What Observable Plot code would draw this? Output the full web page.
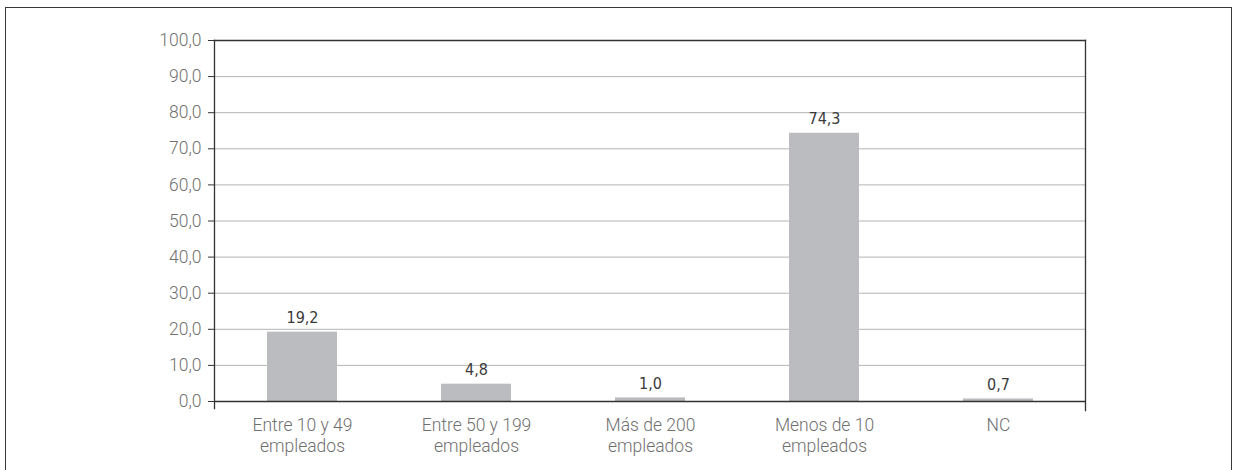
<!DOCTYPE html>
<html>
<head>
<meta charset="utf-8">
<script src="https://cdn.jsdelivr.net/npm/d3@7"></script>
<script src="https://cdn.jsdelivr.net/npm/@observablehq/plot@0.6"></script>
<style>
  html, body { margin: 0; padding: 0; background: #fff; }
  #wrap { position: relative; width: 1237px; height: 470px; overflow: hidden; }
  #border { position: absolute; left: 5px; top: 7px; width: 1227px; height: 480px; border: 1.5px solid #3a3a3a; box-sizing: border-box; pointer-events: none; }
</style>
</head>
<body>
<div id="wrap"><div id="border"></div></div>
<script>
const categories = ["Entre 10 y 49 empleados", "Entre 50 y 199 empleados", "Más de 200 empleados", "Menos de 10 empleados", "NC"];
const tickLabels = ["Entre 10 y 49\nempleados", "Entre 50 y 199\nempleados", "Más de 200\nempleados", "Menos de 10\nempleados", "NC"];
const values = [19.2, 4.8, 1.0, 74.3, 0.7];
const yTicks = [0, 10, 20, 30, 40, 50, 60, 70, 80, 90, 100];

const data = categories.map((c, i) => ({cat: c, value: values[i]}));
const fmt = d => d.toFixed(1).replace(".", ",");
const labelOf = new Map(categories.map((c, i) => [c, tickLabels[i]]));

const chart = Plot.plot({
  width: 1237,
  height: 470,
  marginLeft: 214,
  marginRight: 152,
  marginTop: 40,
  marginBottom: 69,
  style: {fontFamily: "Roboto, 'Liberation Sans', sans-serif", fontSize: "17px", fontWeight: 300, background: "transparent"},
  x: {domain: categories, paddingInner: 0.6, paddingOuter: 0.3, label: null},
  y: {domain: [0, 100], label: null},
  marks: [
    Plot.gridY(yTicks, {stroke: "#b4b4b4", strokeOpacity: 1, strokeWidth: 1}),
    Plot.barY(data, {x: "cat", y: "value", fill: "#bbbcbf"}),
    Plot.frame({anchor: "top", stroke: "#333", strokeWidth: 1.3}),
    Plot.frame({anchor: "right", stroke: "#333", strokeWidth: 1.3, insetBottom: -9}),
    Plot.frame({anchor: "left", stroke: "#333", strokeWidth: 1.3, insetBottom: -7}),
    Plot.ruleY([0], {stroke: "#333", strokeWidth: 1.3}),
    Plot.axisY(yTicks, {tickFormat: fmt, tickSize: 6, tickPadding: 7, stroke: "#333", fill: "#707070", fontSize: 17.5}),
    Plot.axisX({tickSize: 0, tickPadding: 15, tickFormat: d => labelOf.get(d), fill: "#707070", fontSize: 17.5, lineHeight: 1.2}),
    Plot.text(data, {x: "cat", y: "value", text: d => fmt(d.value), dy: -14, fill: "#3a3a3a",
      fontFamily: "'DejaVu Sans Condensed', 'Liberation Sans Narrow', sans-serif", fontWeight: 400, fontSize: 16})
  ]
});
document.getElementById("wrap").prepend(chart);
</script>
</body>
</html>
